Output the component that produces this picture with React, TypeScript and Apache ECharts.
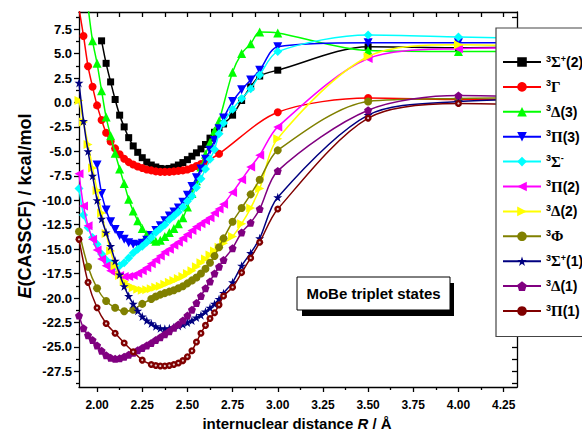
import React, { useEffect, useRef } from "react";
import * as echarts from "echarts";

// Internuclear distance grid (Å)
const R = [
  1.9, 1.925, 1.95, 1.975, 2.0, 2.025, 2.05, 2.075, 2.1, 2.125, 2.15, 2.175, 2.2, 2.225, 2.25, 2.275,
  2.3, 2.325, 2.35, 2.375, 2.4, 2.425, 2.45, 2.475, 2.5, 2.525, 2.55, 2.575, 2.6, 2.625, 2.65, 2.675,
  2.7, 2.75, 2.8, 2.85, 2.9, 3.0, 3.5, 4.0, 4.5,
];

// E(CASSCF) / kcal/mol for each state (null = no computed point)
const SIGMA_PLUS_2 = [
  null, null, null, null, null, 6.3, 4.0, 2.1, 0.3, -1.3, -2.5, -3.6, -4.45, -5.1, -5.65, -6.1,
  -6.4, -6.6, -6.75, -6.8, -6.75, -6.6, -6.4, -6.15, -5.85, -5.5, -5.15, -4.75, -4.3, -3.65, -3.05, -2.6,
  -2.2, -1.3, 0.2, 1.6, 2.7, 3.3, 5.7, 5.6, 5.7,
];
const GAMMA = [
  9.6, 6.8, 3.7, 1.6, -0.3, -1.8, -3.1, -4.0, -4.7, -5.3, -5.75, -6.1, -6.35, -6.55, -6.7, -6.85,
  -6.95, -7.05, -7.1, -7.1, -7.1, -7.05, -7.0, -6.95, -6.85, -6.7, -6.5, -6.3, -6.05, null, null, -5.25,
  null, null, null, null, null, -1.0, 0.45, 0.3, 0.3,
];
const DELTA_3 = [
  null, null, 9.8, 6.3, 4.0, 1.2, -1.5, -3.4, -5.2, -6.8, -8.3, -9.9, -11.1, -12.1, -12.9, -13.5,
  -14.0, -14.2, -14.1, -13.7, -13.3, -12.9, -12.4, -11.8, -10.7, -9.3, -8.0, -6.6, -5.3, -4.1, -2.9, -1.9,
  null, 3.1, 5.0, 6.0, 7.2, 7.1, 5.3, 5.2, 5.2,
];
const PI_3 = [
  null, null, null, null, -6.4, -9.3, -11.0, -12.2, -13.0, -13.6, -14.0, -14.35, -14.5, -14.55, -14.4, -14.1,
  -13.6, -13.1, -12.6, -12.1, -11.6, -11.2, -10.8, -10.2, -9.5, -8.6, -7.7, -6.8, -5.8, -4.9, -3.9, -2.7,
  -1.6, 0.1, 1.3, 2.3, 3.3, 5.7, 6.1, 6.1, 6.1,
];
const SIGMA_MINUS = [
  -8.8, -11.5, -12.8, -13.8, -14.5, -15.5, -16.1, -16.5, -16.75, -16.7, -16.4, -15.9, -15.4, -15.0, -14.7, -14.3,
  -13.8, -13.3, -12.9, -12.5, -12.0, -11.6, -11.2, -10.7, -10.1, -9.6, -8.7, -7.8, -6.8, -5.8, -4.8, -3.2,
  -2.1, -0.7, 0.4, 1.4, 2.8, 5.2, 6.9, 6.7, 6.5,
];
const PI_2 = [
  -7.3, -10.6, -12.6, -14.0, -15.1, -16.0, -16.7, -17.2, -17.5, -17.7, -17.8, -17.8, -17.7, -17.5, -17.2, -16.9,
  -16.5, -16.1, -15.7, -15.3, -15.0, -14.6, -14.3, -13.9, -13.5, -13.1, -12.7, -12.4, -12.1, -11.8, -11.3, -10.9,
  -10.4, -9.2, -7.9, -6.6, -5.4, -2.5, 4.5, 5.5, 5.6,
];
const DELTA_2 = [
  0.2, -2.0, -4.3, -6.7, -9.0, -11.3, -13.4, -15.2, -16.7, -17.7, -18.3, -18.7, -18.95, -19.1, -19.2, -19.15,
  -19.05, -18.9, -18.8, -18.6, -18.4, -18.2, -18.0, -17.8, -17.5, -17.2, -16.8, -16.4, -16.0, -15.6, -15.2, -14.8,
  -14.4, -13.7, -12.4, -10.8, -8.8, -3.7, 4.7, 5.9, 5.7,
];
const PHI = [
  -13.2, null, -16.8, null, -19.0, null, -20.3, null, -21.0, null, -21.35, null, -21.2, null, -20.6, null,
  -20.1, -19.85, -19.65, -19.5, -19.35, -19.2, -19.0, -18.8, -18.5, -18.2, -17.9, -17.5, -17.0, -16.4, -15.7, -14.8,
  -13.9, -12.2, -10.8, -9.4, -7.9, -4.9, 0.1, 0.4, 0.5,
];
const SIGMA_PLUS_1 = [
  2.0, -1.9, -5.0, -7.5, -10.0, -11.9, -13.3, -14.7, -16.2, -17.6, -18.8, -19.8, -20.6, -21.3, -21.9, -22.3,
  -22.6, -22.9, -23.1, -23.15, -23.1, -23.0, -22.85, -22.7, -22.5, -22.3, -22.0, -21.75, -21.4, -21.0, -20.6, -20.1,
  -19.5, -18.4, -16.7, -15.4, -13.9, -9.7, -1.3, 0.1, 0.3,
];
const DELTA_1 = [
  -21.8, -23.1, -23.8, -24.3, -24.85, -25.4, -25.85, -26.1, -26.2, -26.15, -26.0, -25.8, -25.6, -25.35, -25.1, -24.85,
  -24.6, -24.3, -24.0, -23.7, -23.4, -23.05, -22.7, -22.3, -21.8, -21.2, -20.5, -19.8, -19.0, -18.3, -17.5, -16.8,
  -16.1, -14.9, -13.3, -12.3, -10.9, -7.0, -0.8, 0.7, 0.5,
];
const PI_1 = [
  -14.0, null, -18.4, null, -21.0, null, -22.6, null, -23.6, null, -24.6, null, -25.5, null, -26.35, null,
  -26.8, -26.9, -26.95, -26.95, -26.9, -26.8, -26.65, -26.4, -26.0, -25.4, -24.5, -23.6, -22.8, -22.1, -21.5, -20.7,
  -19.8, -18.9, -17.4, -15.9, -14.3, -10.9, -1.6, -0.1, -0.3,
];

// Tick values
const X_MAJOR = [2.0, 2.25, 2.5, 2.75, 3.0, 3.25, 3.5, 3.75, 4.0, 4.25];
const X_MINOR = [2.125, 2.375, 2.625, 2.875, 3.125, 3.375, 3.625, 3.875, 4.125];
const Y_MAJOR = [7.5, 5, 2.5, 0, -2.5, -5, -7.5, -10, -12.5, -15, -17.5, -20, -22.5, -25, -27.5];
const Y_MINOR = [8.75, 6.25, 3.75, 1.25, -1.25, -3.75, -6.25, -8.75, -11.25, -13.75, -16.25, -18.75, -21.25, -23.75, -26.25, -28.75];

// Legend labels: [term letter, superscript sign, suffix]
const LABELS: Record<string, [string, string, string]> = {
  "S+2": ["Σ", "+", "(2)"],
  G: ["Γ", "", ""],
  D3: ["Δ", "", "(3)"],
  P3: ["Π", "", "(3)"],
  "S-": ["Σ", "-", ""],
  P2: ["Π", "", "(2)"],
  D2: ["Δ", "", "(2)"],
  F: ["Φ", "", ""],
  "S+1": ["Σ", "+", "(1)"],
  D1: ["Δ", "", "(1)"],
  P1: ["Π", "", "(1)"],
};

const X_MIN = 1.9;
const X_MAX = 4.324;
const Y_MIN = -29.1;
const Y_MAX = 9.25;

const FONT = "Liberation Sans";

const STYLES = [
  { key: "S+2", data: SIGMA_PLUS_2, color: "#000000", symbol: "rect", size: 7 },
  { key: "G", data: GAMMA, color: "#ff0000", symbol: "circle", size: 8 },
  { key: "D3", data: DELTA_3, color: "#00ff00", symbol: "triangle", size: 9 },
  { key: "P3", data: PI_3, color: "#0000ff", symbol: "path://M0,0 L10,0 L5,9 Z", size: 9 },
  { key: "S-", data: SIGMA_MINUS, color: "#00ffff", symbol: "diamond", size: 9 },
  { key: "P2", data: PI_2, color: "#ff00ff", symbol: "path://M0,5 L9,0 L9,10 Z", size: 9 },
  { key: "D2", data: DELTA_2, color: "#ffff00", symbol: "path://M9,5 L0,0 L0,10 Z", size: 9 },
  { key: "F", data: PHI, color: "#808000", symbol: "circle", size: 8 },
  {
    key: "S+1",
    data: SIGMA_PLUS_1,
    color: "#000080",
    symbol: "path://M5,0 L6.2,3.6 L10,3.6 L6.9,5.9 L8.1,9.5 L5,7.3 L1.9,9.5 L3.1,5.9 L0,3.6 L3.8,3.6 Z",
    size: 9,
  },
  { key: "D1", data: DELTA_1, color: "#800080", symbol: "path://M5,0 L10,3.8 L8.1,10 L1.9,10 L0,3.8 Z", size: 8 },
  { key: "P1", data: PI_1, color: "#800000", symbol: "circle", size: 7 },
];

function points(arr: (number | null)[]) {
  const out: [number, number][] = [];
  R.forEach((r, i) => {
    const v = arr[i];
    if (v !== null && v !== undefined) out.push([r, v]);
  });
  return out;
}

function buildOption() {
  const gridRect = { left: 79, top: 12, width: 438, height: 375 };
  const axisLineStyle = { color: "#000", width: 1.3 };

  const series: any[] = STYLES.map((s, i) => ({
    type: "line",
    name: s.key,
    data: points(s.data),
    xAxisIndex: 0,
    yAxisIndex: 0,
    symbol: s.symbol,
    symbolSize: s.size,
    smooth: 0.3,
    clip: true,
    lineStyle: { color: s.color, width: 1.5 },
    itemStyle: { color: s.color, borderWidth: 0 },
    emphasis: { disabled: true },
    z: 2 + i * 0.01,
  }));
  // white highlight inside the ³Π(1) markers
  series.push({
    type: "scatter",
    name: "P1dot",
    data: points(PI_1),
    xAxisIndex: 0,
    yAxisIndex: 0,
    symbol: "circle",
    symbolSize: 2.2,
    itemStyle: { color: "#ffffff" },
    clip: true,
    silent: true,
    emphasis: { disabled: true },
    z: 3,
  });

  const rich = {
    n: { fontSize: 9, fontWeight: "bold", fontFamily: FONT, color: "#000", verticalAlign: "top", lineHeight: 10 },
    g: { fontSize: 15, fontFamily: "Liberation Serif", color: "#000", lineHeight: 16 },
    s: { fontSize: 9, fontWeight: "bold", fontFamily: FONT, color: "#000", verticalAlign: "top", lineHeight: 10 },
    t: { fontSize: 14, fontWeight: "bold", fontFamily: FONT, color: "#000", lineHeight: 16 },
  };

  return {
    animation: false,
    backgroundColor: "#ffffff",
    grid: [
      { ...gridRect, show: false },
      { ...gridRect, show: false },
    ],
    xAxis: [
      {
        type: "value",
        gridIndex: 0,
        position: "bottom",
        min: X_MIN,
        max: X_MAX,
        axisLine: { show: true, onZero: false, lineStyle: axisLineStyle },
        axisTick: { show: true, inside: false, length: 5, customValues: X_MAJOR, lineStyle: axisLineStyle },
        axisLabel: {
          show: true,
          customValues: X_MAJOR,
          formatter: (v: number) => v.toFixed(2),
          margin: 12,
          color: "#000",
          fontFamily: FONT,
          fontWeight: "bold",
          fontSize: 12,
        },
        splitLine: { show: false },
      },
      {
        type: "value",
        gridIndex: 0,
        position: "top",
        min: X_MIN,
        max: X_MAX,
        axisLine: { show: true, onZero: false, lineStyle: axisLineStyle },
        axisTick: {
          show: true,
          inside: true,
          length: 5,
          customValues: [...X_MAJOR, ...X_MINOR].sort((a, b) => a - b),
          lineStyle: axisLineStyle,
        },
        axisLabel: { show: false },
        splitLine: { show: false },
      },
      {
        type: "value",
        gridIndex: 1,
        position: "bottom",
        min: X_MIN,
        max: X_MAX,
        axisLine: { show: false, onZero: false },
        axisTick: { show: true, inside: false, length: 3, customValues: X_MINOR, lineStyle: axisLineStyle },
        axisLabel: { show: false },
        splitLine: { show: false },
      },
    ],
    yAxis: [
      {
        type: "value",
        gridIndex: 0,
        position: "left",
        min: Y_MIN,
        max: Y_MAX,
        axisLine: { show: true, onZero: false, lineStyle: axisLineStyle },
        axisTick: { show: true, inside: false, length: 5, customValues: Y_MAJOR, lineStyle: axisLineStyle },
        axisLabel: {
          show: true,
          customValues: Y_MAJOR,
          formatter: (v: number) => v.toFixed(1),
          margin: 7,
          color: "#000",
          fontFamily: FONT,
          fontWeight: "bold",
          fontSize: 13,
        },
        splitLine: { show: false },
      },
      {
        type: "value",
        gridIndex: 0,
        position: "right",
        min: Y_MIN,
        max: Y_MAX,
        axisLine: { show: true, onZero: false, lineStyle: axisLineStyle },
        axisTick: {
          show: true,
          inside: true,
          length: 5,
          customValues: [...Y_MAJOR, ...Y_MINOR].sort((a, b) => a - b),
          lineStyle: axisLineStyle,
        },
        axisLabel: { show: false },
        splitLine: { show: false },
      },
      {
        type: "value",
        gridIndex: 1,
        position: "left",
        min: Y_MIN,
        max: Y_MAX,
        axisLine: { show: false, onZero: false },
        axisTick: { show: true, inside: false, length: 3, customValues: Y_MINOR, lineStyle: axisLineStyle },
        axisLabel: { show: false },
        splitLine: { show: false },
      },
    ],
    legend: {
      orient: "vertical",
      left: 496,
      top: 28,
      padding: [26, 20, 18, 6],
      itemGap: 9.4,
      itemWidth: 38,
      itemHeight: 12,
      backgroundColor: "#ffffff",
      borderColor: "#444444",
      borderWidth: 1.2,
      selectedMode: false,
      data: STYLES.map((s) => s.key),
      formatter: (name: string) => {
        const l = LABELS[name];
        if (!l) return name;
        const [g, s, t] = l;
        return `{n|3}{g|${g}}` + (s ? `{s|${s}}` : "") + (t ? `{t|${t}}` : "");
      },
      textStyle: { rich, color: "#000", fontFamily: FONT, fontWeight: "bold", fontSize: 14 },
      z: 10,
    },
    graphic: {
      elements: [
        {
          type: "text",
          x: 25,
          y: 206,
          rotation: Math.PI / 2,
          z: 100,
          style: {
            text: "{i|E}{b|(CASSCF) / kcal/mol}",
            rich: {
              i: { fontSize: 18, fontWeight: "bold", fontStyle: "italic", fontFamily: FONT, fill: "#000" },
              b: { fontSize: 18, fontWeight: "bold", fontFamily: FONT, fill: "#000" },
            },
            align: "center",
            verticalAlign: "middle",
            fill: "#000",
          },
        },
        {
          type: "text",
          x: 297,
          y: 423,
          z: 100,
          style: {
            text: "{b|internuclear distance }{i|R}{b| / Å}",
            rich: {
              i: { fontSize: 15, fontWeight: "bold", fontStyle: "italic", fontFamily: FONT, fill: "#000" },
              b: { fontSize: 15, fontWeight: "bold", fontFamily: FONT, fill: "#000" },
            },
            align: "center",
            verticalAlign: "middle",
            fill: "#000",
          },
        },
        {
          type: "rect",
          z: 100,
          shape: { x: 302, y: 283, width: 152, height: 33 },
          style: { fill: "#000" },
        },
        {
          type: "rect",
          z: 101,
          shape: { x: 297, y: 277, width: 153, height: 33 },
          style: { fill: "#fff", stroke: "#000", lineWidth: 1 },
        },
        {
          type: "text",
          z: 102,
          x: 373.5,
          y: 293.5,
          style: {
            text: "MoBe triplet states",
            fontSize: 15,
            fontWeight: "bold",
            fontFamily: FONT,
            fill: "#000",
            align: "center",
            verticalAlign: "middle",
          },
        },
      ],
    },
    series,
  };
}

export default function App() {
  const ref = useRef<HTMLDivElement>(null);
  useEffect(() => {
    if (!ref.current) return;
    const chart = echarts.init(ref.current, null, { renderer: "svg" });
    chart.setOption(buildOption() as any);
    return () => chart.dispose();
  }, []);
  return (
    <div
      ref={ref}
      style={{ position: "absolute", left: 0, top: 0, width: 582, height: 443, background: "#fff" }}
    />
  );
}
